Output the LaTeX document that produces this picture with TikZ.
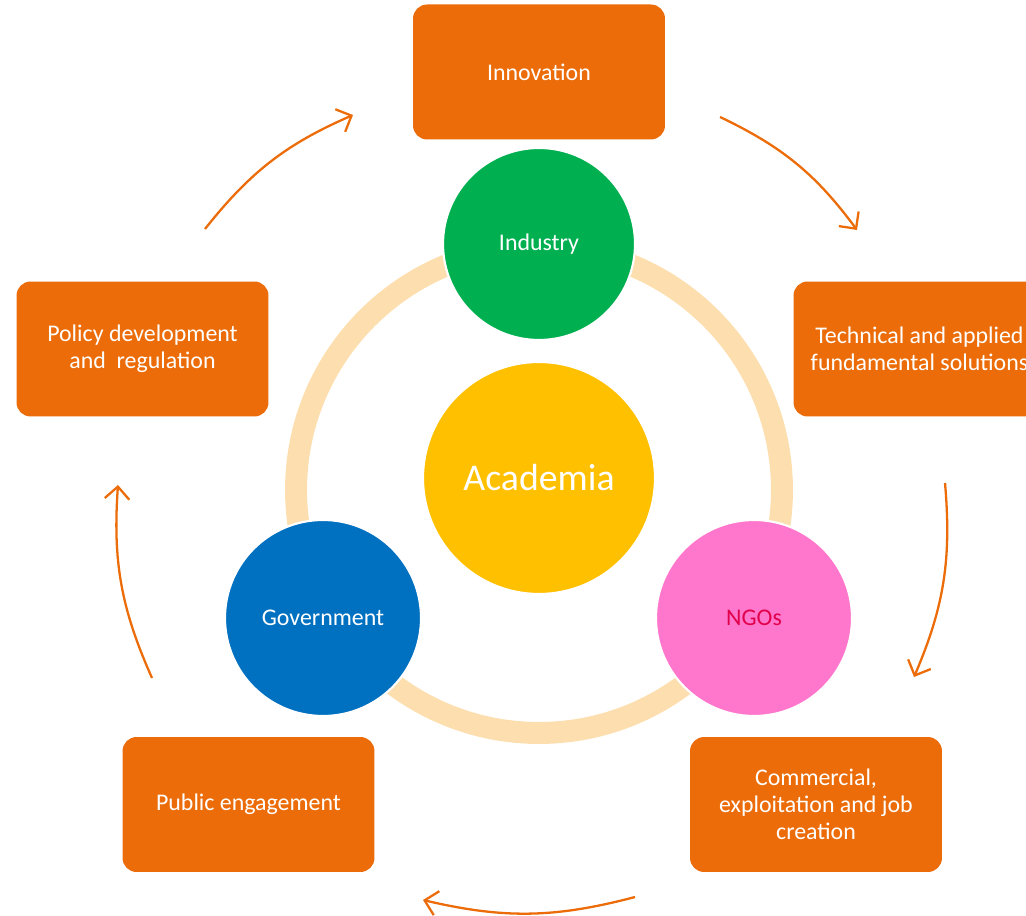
\documentclass[tikz,border=0pt]{standalone}
\usepackage{fontspec}
\setmainfont{Carlito}
\usepackage{xcolor}
\usetikzlibrary{arrows.meta, positioning, calc}

\definecolor{boxorange}{RGB}{235,108,9}
\definecolor{ringpeach}{RGB}{253,223,175}
\definecolor{acadgold}{RGB}{255,192,0}
\definecolor{indgreen}{RGB}{0,176,80}
\definecolor{govblue}{RGB}{0,112,192}
\definecolor{ngopink}{RGB}{255,119,204}
\definecolor{ngotext}{RGB}{225,0,75}

\begin{document}
\begin{tikzpicture}[x=0.02cm, y=0.02cm, font=\fontsize{13.6}{15.4}\selectfont]
		\tikzset{
			actor/.style={circle, draw=white, line width=1.2pt, inner sep=0pt, align=center, text=white},
			outcome/.style={fill=boxorange, rounded corners=8pt, minimum width=5.04cm, minimum height=2.7cm, align=center, text=white},
			flow/.style={draw=boxorange, line width=1.3pt, -{Straight Barb[length=7pt, width=14pt, line width=1.3pt]}}
		}
		\useasboundingbox (0,0) rectangle (1026,915);
		\clip (0,0) rectangle (1026,915);
		
		% ring behind the actors
		\draw[ringpeach, line width=0.44cm] (539,425) circle (4.86cm);
		
		\node[actor, fill=acadgold, minimum size=4.64cm, font=\fontsize{21.5}{25}\selectfont] (acad) at (539,437) {Academia};
		\node[actor, fill=indgreen, minimum size=3.84cm] (ind) at (539,671) {Industry};
		\node[actor, fill=govblue, minimum size=3.92cm] (gov) at (323,297) {Government};
		\node[actor, fill=ngopink, minimum size=3.92cm, text=ngotext] (ngo) at (754,297) {NGOs};
		
		\node[outcome] (inno) at (539,843) {Innovation};
		\node[outcome] (tech) at (919.5,566) {Technical and applied\\fundamental solutions};
		\node[outcome] (comm) at (816,110.5) {Commercial,\\exploitation and job\\creation};
		\node[outcome] (pub) at (248.5,110.5) {Public engagement};
		\node[outcome] (pol) at (142.5,566) {Policy development\\and\ \ regulation};
		
		% cycle arrows
		\coordinate (f1s) at (205,686);
		\coordinate (f1e) at (353,800);
		\coordinate (f2s) at (720,798);
		\coordinate (f2e) at (857,685);
		\coordinate (f3s) at (945,432);
		\coordinate (f3e) at (914,238);
		\coordinate (f4s) at (635,18);
		\coordinate (f4e) at (423,15);
		\coordinate (f5s) at (152,237);
		\coordinate (f5e) at (118,430);
		\foreach \i in {1,...,5}{
			\draw[flow] (f\i s) to[bend left=14] (f\i e);
		}
	\end{tikzpicture}
\end{document}
